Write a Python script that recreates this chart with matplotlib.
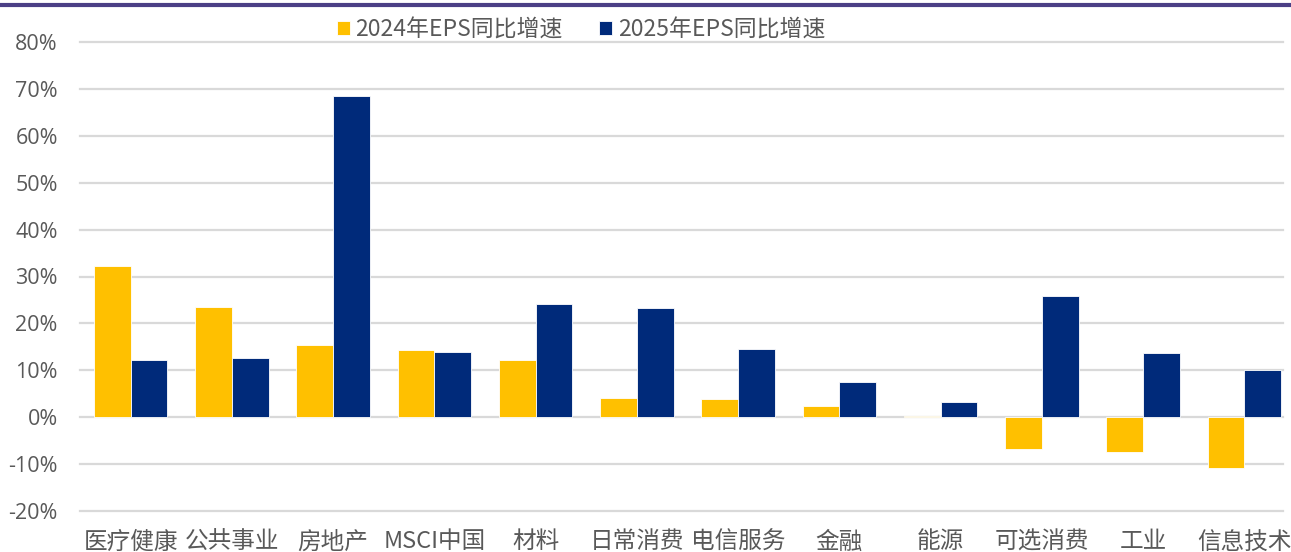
import numpy as np
import matplotlib.pyplot as plt
from matplotlib.lines import Line2D

plt.rcParams['font.family'] = ['Noto Sans CJK SC', 'DejaVu Sans']

categories = ["医疗健康", "公共事业", "房地产", "MSCI中国", "材料", "日常消费",
              "电信服务", "金融", "能源", "可选消费", "工业", "信息技术"]
eps_2024 = [32.3, 23.5, 15.4, 14.4, 12.1, 4.2, 3.9, 2.4, 0.3, -6.7, -7.4, -10.8]
eps_2025 = [12.1, 12.7, 68.4, 13.8, 24.2, 23.3, 14.6, 7.5, 3.3, 25.8, 13.6, 10.1]
labels = ["2024年EPS同比增速", "2025年EPS同比增速"]
yticks = [-20, -10, 0, 10, 20, 30, 40, 50, 60, 70, 80]

yellow = "#FFC000"
navy = "#002A7A"
grey = "#595959"

fig = plt.figure(figsize=(12.91, 5.52), dpi=100)
ax = fig.add_axes([80 / 1291, 41 / 552, 1215 / 1291, 469 / 552])

x = np.arange(len(categories))
w = 0.363
ax.bar(x - w / 2, eps_2024, w, color=yellow, edgecolor="white", linewidth=0.6,
       label=labels[0], zorder=3)
ax.bar(x + w / 2, eps_2025, w, color=navy, edgecolor="white", linewidth=0.6,
       label=labels[1], zorder=3)

for t in yticks:
    ax.axhline(t, xmin=0, xmax=1203 / 1215, color="#D9D9D9", linewidth=1.6,
               zorder=1, clip_on=False)

ax.set_xlim(-0.5, len(categories) - 0.5)
ax.set_ylim(-20, 80)
ax.set_yticks(yticks)
ax.set_yticklabels([f"{t}%" for t in yticks], fontsize=15.5, color=grey,
                   family=["Open Sans", "DejaVu Sans"])
ax.set_xticks(x)
ax.set_xticklabels(categories, fontsize=17, color=grey)
ax.tick_params(axis="both", length=0)
ax.tick_params(axis="x", pad=14)
ax.tick_params(axis="y", pad=16)
for s in ax.spines.values():
    s.set_visible(False)

leg = ax.legend(loc="upper center", bbox_to_anchor=(501 / 1215, 1.085), ncol=2,
                frameon=False, fontsize=16.5, handlelength=0.55, handleheight=0.55,
                handletextpad=0.25, columnspacing=1.6, borderpad=0.2)
for t in leg.get_texts():
    t.set_color(grey)

fig.add_artist(Line2D([0, 0.999], [1 - 5 / 552, 1 - 5 / 552], color="#4B3F86",
                      linewidth=3, transform=fig.transFigure))

fig.savefig("out.png", dpi=100)
